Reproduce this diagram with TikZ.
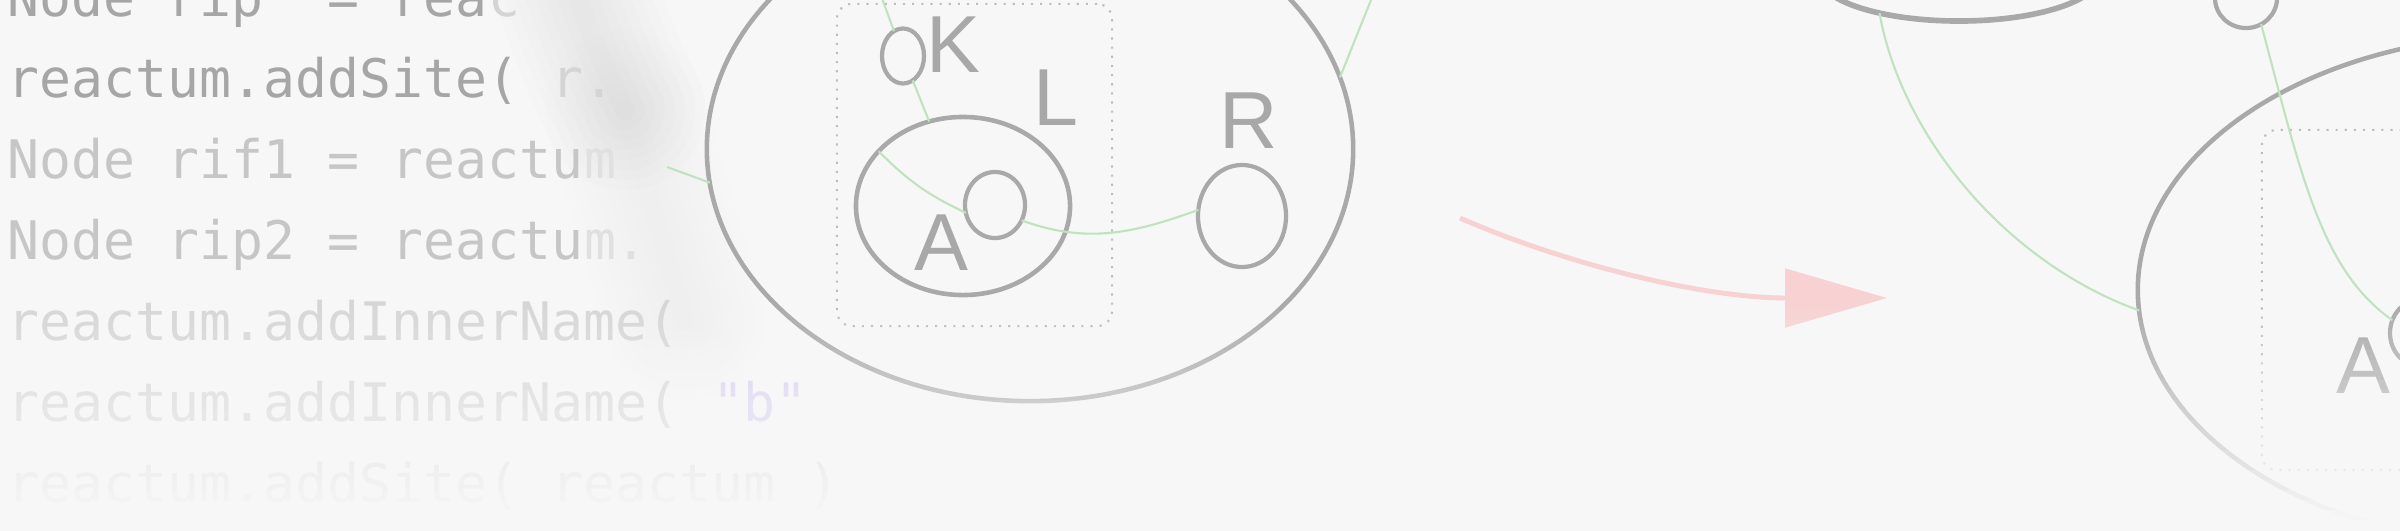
\documentclass[tikz,border=0pt]{standalone}
\usepackage{fontspec}
\usetikzlibrary{shapes.geometric,arrows.meta}
\newfontfamily\codefont{DejaVu Sans Mono}
\newfontfamily\lblfont{Liberation Sans}
\definecolor{bgcol}{HTML}{F7F7F7}
\definecolor{codeA}{HTML}{A6A6A6}
\definecolor{codeAt}{HTML}{D4D4D4}
\definecolor{codeB}{HTML}{C6C6C6}
\definecolor{codeBt}{HTML}{E0E0E0}
\definecolor{codeC}{HTML}{D6D6D6}
\definecolor{strpurple}{HTML}{D9CFF2}
\definecolor{outline}{HTML}{A9A9A9}
\definecolor{lblgray}{HTML}{A8A8A8}
\definecolor{linkgreen}{HTML}{BFE3BF}
\definecolor{dotgray}{HTML}{BDBDBD}
\definecolor{arrowpink}{HTML}{F8D2D2}
\definecolor{smudge}{HTML}{707070}
\begin{document}
\begin{tikzpicture}[x=0.01cm,y=-0.01cm,
  code/.style={font={\codefont\fontsize{15.1}{18}\selectfont}, anchor=base west, inner sep=0pt, outer sep=0pt},
  lbl/.style={font={\lblfont\fontsize{23}{26}\selectfont}, text=lblgray, anchor=base, inner sep=0pt},
  outl/.style={ellipse, draw=outline, line width=1.3pt, inner sep=0pt, outer sep=0pt},
  portc/.style={ellipse, draw=outline, line width=1.2pt, inner sep=0pt, outer sep=0pt},
  dotbox/.style={rectangle, draw=dotgray, dotted, line width=0.6pt, rounded corners=0.15cm, inner sep=0pt, outer sep=0pt},
  link/.style={draw=linkgreen, line width=0.6pt},
  react/.style={draw=arrowpink, line width=1.4pt, -{Triangle[length=29pt,width=16.5pt]}},
]
\useasboundingbox (0,0) rectangle (2400,530);
\clip (0,0) rectangle (2400,530);
\fill[bgcol] (0,0) rectangle (2400,530);

% soft blurred smudge
\foreach \w in {16,14,12,10,8,6,4,2}{
  \draw[smudge, line width=\w mm, opacity=0.011, line cap=round] (565,-40) .. controls (585,20) and (600,60) .. (625,110);
  \draw[smudge, line width=\w mm, opacity=0.004, line cap=round] (625,110) .. controls (645,180) and (665,250) .. (685,320);
}

% code listing
\node[code, text=codeA]  (c0)  at (8,16)  {Node rip\ \ = rea};
\node[code, text=codeAt] (c0t) at (488,16) {c};
\node[code, text=codeA]  (c1)  at (8,97)  {reactum.addSite(};
\node[code, text=codeAt] (c1t) at (520,97) {\ r.};
\node[code, text=codeB]  (c2)  at (8,178) {Node rif1 = reactu};
\node[code, text=codeBt] (c2t) at (584,178) {m};
\node[code, text=codeB]  (c3)  at (8,259) {Node rip2 = reactu};
\node[code, text=codeBt] (c3t) at (584,259) {m.};
\node[code, text=codeC]  (c4)  at (8,340) {reactum.addInnerName(};
\node[code, text=codeC]  (c5)  at (8,421) {reactum.addInnerName(};
\node[code, text=strpurple] (c5s) at (712,421) {"b"};
\node[code, text=codeC]  (c6)  at (8,502) {reactum.addSite( reactum )};

% redex (middle)
\node[outl, minimum width=6.46cm, minimum height=5.04cm] (bigE) at (1030,149) {};
\node[dotbox, minimum width=2.75cm, minimum height=3.22cm] (kbox) at (974.5,165) {};
\node[outl, minimum width=2.14cm, minimum height=1.78cm] (innerE) at (963,206) {};
\node[portc, minimum width=0.42cm, minimum height=0.55cm] (kport) at (903,56) {};
\node[portc, minimum width=0.60cm, minimum height=0.66cm] (aport) at (995,205) {};
\node[portc, minimum width=0.88cm, minimum height=1.02cm] (rport) at (1242,216) {};
\node[lbl] (lK) at (953,72) {K};
\node[lbl] (lL) at (1056,125) {L};
\node[lbl] (lR) at (1249,148) {R};
\node[lbl] (lA) at (941,270) {A};

\coordinate (ktop) at (879,-10);
\coordinate (lfree) at (667,167);
\coordinate (trtop) at (1375,-10);
\draw[link] (ktop) -- (kport);
\draw[link] (kport) -- (innerE);
\draw[link] (innerE.147) to[bend right=10] (aport.195);
\draw[link] (aport.-30) to[out=-20, in=200] (rport.172);
\draw[link] (trtop) -- (bigE.13);
\draw[link] (lfree) -- (bigE.186);

% reaction arrow
\coordinate (arrS) at (1460,218);
\coordinate (arrE) at (1887,298);
\draw[react] (arrS) .. controls (1560,262) and (1700,298) .. (arrE);

% reactum (right)
\node[outl, line width=1.6pt, minimum width=2.80cm, minimum height=0.90cm] (topE) at (1959,-24) {};
\node[portc, minimum width=0.62cm, minimum height=0.60cm] (smallO) at (2246,-2) {};
\node[outl, minimum width=7.84cm, minimum height=5.10cm] (bigR) at (2530,290) {};
\node[dotbox, minimum width=4.38cm, minimum height=3.40cm] (kbox2) at (2481,300) {};
\node[portc, minimum width=0.60cm, minimum height=0.66cm] (aport2) at (2420,333) {};
\node[lbl] (lA2) at (2363,393) {A};
\draw[link] (topE.205) .. controls (1900,130) and (2000,260) .. (bigR.183);
\draw[link] (smallO.-60) .. controls (2300,170) and (2320,270) .. (aport2.155);

% fade towards the bottom
\foreach \i in {0,...,21}{
  \pgfmathsetmacro\op{(\i+0.5)/22}
  \fill[bgcol, opacity=\op] (0,{300+10*\i}) rectangle (2400,{310+10*\i});
}
\fill[bgcol] (0,520) rectangle (2400,600);
\end{tikzpicture}
\end{document}
